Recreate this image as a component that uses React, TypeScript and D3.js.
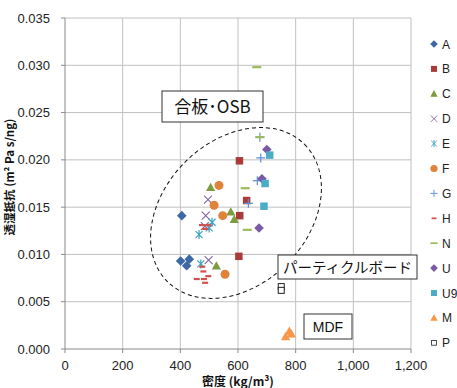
import React from 'react';
import * as d3 from 'd3';

// density (kg/m3), vapour resistance (m2 Pa s/ng)
const seriesNames = ['A', 'B', 'C', 'D', 'E', 'F', 'G', 'H', 'N', 'U', 'U9', 'M', 'P'];

const ptsA = [[405, 0.0141], [401, 0.0093], [431, 0.0095], [422, 0.0088]];
const ptsB = [[605, 0.0199], [630, 0.0157], [606, 0.0141], [603, 0.0098]];
const ptsC = [[505, 0.0171], [575, 0.0145], [587, 0.0137], [525, 0.0088]];
const ptsD = [[496, 0.0158], [488, 0.0141], [485, 0.0130], [498, 0.0094]];
const ptsE = [[510, 0.0134], [500, 0.0128], [465, 0.0121], [471, 0.0090]];
const ptsF = [[534, 0.0173], [517, 0.0152], [547, 0.0141], [555, 0.0079]];
const ptsG = [[676, 0.0224], [679, 0.0202], [667, 0.0178], [636, 0.0154]];
const ptsH = [[475, 0.0131], [497, 0.0131], [486, 0.0127], [476, 0.0087], [480, 0.0082],
  [497, 0.0077], [457, 0.0074], [482, 0.0074], [486, 0.0070]];
const ptsN = [[665, 0.0298], [676, 0.0224], [625, 0.0170], [632, 0.0126]];
const ptsU = [[700, 0.0211], [683, 0.0180], [673, 0.0128]];
const ptsU9 = [[710, 0.0205], [694, 0.0175], [690, 0.0151]];
const ptsM = [[765, 0.0013], [785, 0.0016], [778, 0.0019]];
const ptsP = [[750, 0.0066], [750, 0.0062]];

const xTicks = [0, 200, 400, 600, 800, 1000, 1200];
const yTicks = [0, 0.005, 0.01, 0.015, 0.02, 0.025, 0.03, 0.035];

const allPts = [ptsA, ptsB, ptsC, ptsD, ptsE, ptsF, ptsG, ptsH, ptsN, ptsU, ptsU9, ptsM, ptsP];
const shapes = ['diamond', 'square', 'triangle', 'x', 'star', 'circle', 'plus', 'dash', 'longdash',
  'diamond', 'square', 'triangle', 'open'];
const colors = ['#3d68a8', '#a93c39', '#7d9c3d', '#8064a2', '#3ea3c0', '#e0833a', '#5e8fd6', '#d2504d',
  '#9bbb59', '#7a5aa6', '#4bacc6', '#f79646', '#222'];

function Marker({ shape, color, x, y, s = 1 }: any) {
  const t = `translate(${x},${y}) scale(${s})`;
  switch (shape) {
    case 'diamond':
      return <path transform={t} d="M0,-4.8L4.8,0L0,4.8L-4.8,0Z" fill={color} />;
    case 'square':
      return <path transform={t} d={d3.symbol(d3.symbolSquare, 56)()!} fill={color} />;
    case 'triangle':
      return <path transform={t} d="M0,-4.6L4.6,3.6L-4.6,3.6Z" fill={color} />;
    case 'circle':
      return <circle transform={t} r={4.5} fill={color} />;
    case 'x':
      return <path transform={t} d="M-4,-4L4,4M-4,4L4,-4" stroke={color} strokeWidth={1.1} />;
    case 'star':
      return <path transform={t} d="M-3.5,-3.5L3.5,3.5M-3.5,3.5L3.5,-3.5M0,-4.5L0,4.5" stroke={color} strokeWidth={1.2} />;
    case 'plus':
      return <path transform={t} d="M-4.5,0L4.5,0M0,-4.5L0,4.5" stroke={color} strokeWidth={1.2} />;
    case 'dash':
      return <path transform={t} d="M-3,0L3,0" stroke={color} strokeWidth={2.2} />;
    case 'longdash':
      return <path transform={t} d="M-4.5,0L4.5,0" stroke={color} strokeWidth={2.2} />;
    case 'open':
      return <rect transform={t} x={-3} y={-3} width={6} height={6} fill="white" stroke={color} strokeWidth={1} />;
  }
  return null;
}

export default function App() {
  const W = 457, H = 388;
  const left = 65, right = 411, top = 18, bottom = 349;
  const x = d3.scaleLinear().domain([0, 1200]).range([left, right]);
  const y = d3.scaleLinear().domain([0, 0.035]).range([bottom, top]);
  const fmtX = d3.format(',');
  const fmtY = d3.format('.3f');
  const font = 'Liberation Sans, Arial, sans-serif';
  const jp = 'Noto Sans CJK JP, sans-serif';

  return (
    <svg width={W} height={H} style={{ position: 'absolute', left: 0, top: 0, background: 'white' }}>
      {/* grid */}
      {xTicks.slice(1).map(t => (
        <line key={'gx' + t} x1={x(t)} x2={x(t)} y1={top} y2={bottom} stroke="#c0c0c0" />
      ))}
      {yTicks.slice(1).map(t => (
        <line key={'gy' + t} x1={left} x2={right} y1={y(t)} y2={y(t)} stroke="#c0c0c0" />
      ))}
      {/* axes */}
      <line x1={left} x2={left} y1={top} y2={bottom} stroke="#8a8a8a" />
      <line x1={left} x2={right} y1={bottom} y2={bottom} stroke="#8a8a8a" />
      {yTicks.map(t => (
        <g key={'ty' + t}>
          <line x1={left - 4} x2={left} y1={y(t)} y2={y(t)} stroke="#8a8a8a" />
          <text x={50} y={y(t) + 4.5} textAnchor="end" fontSize={13} fontFamily={font} fill="#222">{fmtY(t)}</text>
        </g>
      ))}
      {xTicks.map(t => (
        <g key={'tx' + t}>
          <line x1={x(t)} x2={x(t)} y1={bottom} y2={bottom + 4} stroke="#8a8a8a" />
          <text x={x(t)} y={370} textAnchor="middle" fontSize={13} fontFamily={font} fill="#222">{fmtX(t)}</text>
        </g>
      ))}
      <text x={238} y={386} textAnchor="middle" fontSize={12} fontWeight="bold" fontFamily={jp} fill="#111">密度 (kg/m³)</text>
      <text transform="translate(14,177) rotate(-90)" textAnchor="middle" fontSize={11.5} fontWeight="bold" fontFamily={jp} fill="#111">透湿抵抗 (m² Pa s/ng)</text>

      {/* dashed ellipse */}
      <ellipse cx={236} cy={213} rx={97} ry={72} transform="rotate(-45,236,213)" fill="none" stroke="#111" strokeDasharray="4,3" strokeWidth={1} />

      {/* points */}
      {allPts.map((pts, i) => pts.map((p, j) => (
        <Marker key={i + '-' + j} shape={shapes[i]} color={colors[i]} x={x(p[0])} y={y(p[1])} />
      )))}

      {/* labels */}
      <rect x={162} y={91} width={101} height={31} fill="white" stroke="#333" />
      <text x={212.5} y={113} textAnchor="middle" fontSize={17} fontFamily={jp} fill="#111">合板･OSB</text>
      <rect x={278} y={255} width={139} height={24} fill="white" stroke="#333" />
      <text x={347.5} y={272.5} textAnchor="middle" fontSize={14.5} fontFamily={jp} fill="#111">パーティクルボード</text>
      <rect x={304} y={314} width={48} height={25} fill="white" stroke="#333" />
      <text x={328} y={331.5} textAnchor="middle" fontSize={14} fontFamily={font} fill="#111">MDF</text>

      {/* legend */}
      {seriesNames.map((n, i) => (
        <g key={'lg' + n}>
          <Marker shape={shapes[i]} color={colors[i]} x={434} y={44 + i * 24.9} s={0.8} />
          <text x={442} y={44 + i * 24.9 + 4.5} fontSize={12} fontFamily={font} fill="#222">{n}</text>
        </g>
      ))}
    </svg>
  );
}
